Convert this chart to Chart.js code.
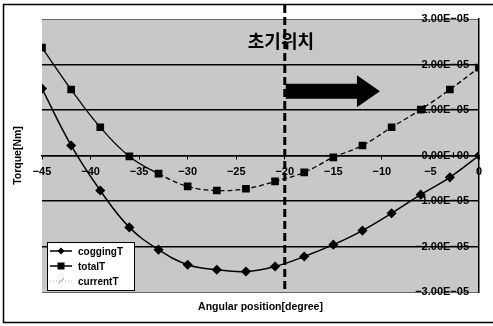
<!DOCTYPE html>
<html>
<head>
<meta charset="utf-8">
<script src="https://cdn.jsdelivr.net/npm/chart.js@4.4.0/dist/chart.umd.min.js"></script>
<style>
  html, body { margin: 0; padding: 0; background: #fff; }
  #wrap { width: 493px; height: 326px; }
</style>
</head>
<body>
<div id="wrap"><canvas id="myChart"></canvas></div>
<script>
// angle [degree] and torque [Nm]
var angles = [-45, -42, -39, -36, -33, -30, -27, -24, -21, -18, -15, -12, -9, -6, -3, 0];
var coggingT = [1.47e-5, 0.22e-5, -0.77e-5, -1.58e-5, -2.07e-5, -2.40e-5, -2.51e-5, -2.55e-5,
  -2.44e-5, -2.22e-5, -1.96e-5, -1.65e-5, -1.27e-5, -0.86e-5, -0.48e-5, 0];
var totalT = [2.37e-5, 1.45e-5, 0.62e-5, -0.02e-5, -0.40e-5, -0.68e-5, -0.77e-5, -0.73e-5,
  -0.57e-5, -0.37e-5, -0.04e-5, 0.22e-5, 0.62e-5, 1.01e-5, 1.45e-5, 1.93e-5];
var currentT = []; // only shown in the legend, no visible curve in the scan
var xTicks = [-45, -40, -35, -30, -25, -20, -15, -10, -5, 0];
var yTicks = [-3e-5, -2e-5, -1e-5, 0, 1e-5, 2e-5, 3e-5];

var startAngle = -20;      // "초기위치" marker
var arrowEnd = -10.2;
var arrowLevel = 1.41e-5;

function pts(ys) {
  return ys.map(function (y, i) { return { x: angles[i], y: y }; });
}

function sci(v) {
  if (Math.abs(v) < 1e-12) v = 0;
  var s = v.toExponential(2).toUpperCase();
  s = s.replace(/E([+-])(\d)$/, "E$10$2");
  return s.replace(/-/g, "\u2212");
}

var fontMain = "'Liberation Sans', Arial, sans-serif";

var decor = {
  id: "decor",
  beforeDraw: function (chart) {
    var ctx = chart.ctx, a = chart.chartArea;
    ctx.save();
    ctx.fillStyle = "#c8c8c8";
    ctx.fillRect(a.left, a.top, a.right - a.left, a.bottom - a.top);
    ctx.restore();
  },
  afterDraw: function (chart) {
    var ctx = chart.ctx, a = chart.chartArea;
    var xs = chart.scales.x, ys = chart.scales.y;
    ctx.save();

    // frame round the figure
    ctx.strokeStyle = "#000";
    ctx.lineWidth = 1.5;
    ctx.beginPath();
    ctx.moveTo(493, 4.5); ctx.lineTo(3.5, 4.5); ctx.lineTo(3.5, 322.5); ctx.lineTo(493, 322.5);
    ctx.stroke();

    // axis titles
    ctx.fillStyle = "#000";
    ctx.font = "bold 10.5px " + fontMain;
    ctx.textAlign = "center";
    ctx.textBaseline = "middle";
    ctx.fillText("Angular position[degree]", (a.left + a.right) / 2, 307);
    ctx.save();
    ctx.translate(18, (a.top + a.bottom) / 2);
    ctx.rotate(-Math.PI / 2);
    ctx.fillText("Torque[Nm]", 0, 0);
    ctx.restore();

    // dashed start position line
    var lx = xs.getPixelForValue(startAngle);
    ctx.strokeStyle = "#000";
    ctx.lineWidth = 3;
    ctx.setLineDash([8, 4]);
    ctx.beginPath();
    ctx.moveTo(lx, 5);
    ctx.lineTo(lx, a.bottom);
    ctx.stroke();
    ctx.setLineDash([]);

    // label
    ctx.font = "bold 18px 'Noto Sans CJK KR', sans-serif";
    ctx.textAlign = "left";
    ctx.fillText("초기위치", lx - 37, 41);

    // arrow
    var ay = ys.getPixelForValue(arrowLevel);
    var ax2 = xs.getPixelForValue(arrowEnd);
    ctx.beginPath();
    ctx.moveTo(lx + 1, ay - 7.5);
    ctx.lineTo(ax2 - 23, ay - 7.5);
    ctx.lineTo(ax2 - 23, ay - 16);
    ctx.lineTo(ax2, ay);
    ctx.lineTo(ax2 - 23, ay + 16);
    ctx.lineTo(ax2 - 23, ay + 7.5);
    ctx.lineTo(lx + 1, ay + 7.5);
    ctx.closePath();
    ctx.fill();

    // legend box
    var bx = a.left + 5, by = a.bottom - 50, bw = 87, bh = 48;
    ctx.fillStyle = "#fff";
    ctx.fillRect(bx, by, bw, bh);
    ctx.strokeStyle = "#000";
    ctx.lineWidth = 1;
    ctx.strokeRect(bx + 0.5, by + 0.5, bw, bh);
    var ds = chart.data.datasets;
    ctx.font = "bold 10px " + fontMain;
    ctx.textBaseline = "middle";
    for (var i = 0; i < ds.length; i++) {
      var ry = by + 9 + i * 15;
      ctx.strokeStyle = ds[i].borderColor;
      ctx.lineWidth = ds[i].legendWidth;
      ctx.setLineDash(ds[i].legendDash);
      ctx.beginPath();
      ctx.moveTo(bx + 3, ry); ctx.lineTo(bx + 25, ry);
      ctx.stroke();
      ctx.setLineDash([]);
      ctx.fillStyle = ds[i].pointBackgroundColor;
      var cx = bx + 14, r = 3.5;
      ctx.beginPath();
      if (ds[i].pointStyle === "rectRot") {
        ctx.moveTo(cx, ry - r); ctx.lineTo(cx + r, ry); ctx.lineTo(cx, ry + r); ctx.lineTo(cx - r, ry);
        ctx.closePath(); ctx.fill();
      } else if (ds[i].pointStyle === "rect") {
        ctx.rect(cx - 3.5, ry - 3.5, 7, 7); ctx.fill();
      } else {
        ctx.strokeStyle = ds[i].pointBackgroundColor;
        ctx.lineWidth = 1;
        ctx.moveTo(cx - 3, ry + 3); ctx.lineTo(cx + 3, ry - 3);
        ctx.stroke();
      }
      ctx.fillStyle = "#000";
      ctx.fillText(ds[i].label, bx + 31, ry + 1);
    }
    ctx.restore();
  }
};

var ctx1 = document.getElementById("myChart").getContext("2d");
var myChart = new Chart(ctx1, {
  type: "line",
  data: {
    datasets: [
      {
        label: "coggingT",
        data: pts(coggingT),
        borderColor: "#000",
        backgroundColor: "#000",
        pointBackgroundColor: "#000",
        pointBorderColor: "#000",
        pointStyle: "rectRot",
        pointRadius: 4,
        borderWidth: 1.5,
        tension: 0.4,
        legendWidth: 1.5,
        legendDash: [],
      },
      {
        label: "totalT",
        data: pts(totalT),
        borderColor: "#000",
        backgroundColor: "#000",
        pointBackgroundColor: "#000",
        pointBorderColor: "#000",
        pointStyle: "rect",
        pointRadius: 4.5,
        borderWidth: 1.3,
        tension: 0.4,
        segment: {
          borderDash: function (c) { return c.p0DataIndex >= 4 ? [5, 3] : undefined; },
        },
        legendWidth: 1.5,
        legendDash: [],
      },
      {
        label: "currentT",
        data: pts(currentT),
        borderColor: "#aaa",
        backgroundColor: "#aaa",
        pointBackgroundColor: "#999",
        pointStyle: "line",
        borderWidth: 1,
        legendWidth: 1,
        legendDash: [1, 2],
      },
    ],
  },
  options: {
    responsive: true,
    maintainAspectRatio: false,
    animation: false,
    events: [],
    layout: { padding: { left: 42, right: 14, top: 19, bottom: 34 } },
    plugins: { legend: { display: false }, tooltip: { enabled: false } },
    scales: {
      x: {
        type: "linear",
        position: { y: 0 },
        min: -45,
        max: 0,
        afterBuildTicks: function (s) { s.ticks = xTicks.map(function (v) { return { value: v }; }); },
        ticks: {
          padding: 7,
          color: "#000",
          font: { family: fontMain, size: 11, weight: "bold" },
          maxRotation: 0,
          callback: function (v) { return String(v).replace("-", "\u2212"); },
        },
        grid: { display: true, drawOnChartArea: false, drawTicks: true, tickLength: 3, tickColor: "#000", tickWidth: 1 },
        border: { display: true, color: "#000", width: 1.5 },
        afterFit: function (s) { s.height = 0; },
      },
      y: {
        type: "linear",
        position: "right",
        min: -3e-5,
        max: 3e-5,
        afterBuildTicks: function (s) { s.ticks = yTicks.map(function (v) { return { value: v }; }); },
        ticks: {
          mirror: true,
          padding: -10,
          color: "#000",
          font: { family: fontMain, size: 11, weight: "bold" },
          callback: function (v) { return sci(v); },
        },
        grid: {
          color: function (c) { return (c.index === 0 || c.index === yTicks.length - 1) ? "#666" : "#000"; },
          lineWidth: function (c) { return (c.index === 0 || c.index === yTicks.length - 1) ? 1 : 1.5; },
          drawTicks: false,
        },
        border: { display: true, color: "#000", width: 1.5 },
        afterFit: function (s) { s.width = 0; },
      },
    },
  },
  plugins: [decor],
});
</script>
</body>
</html>
